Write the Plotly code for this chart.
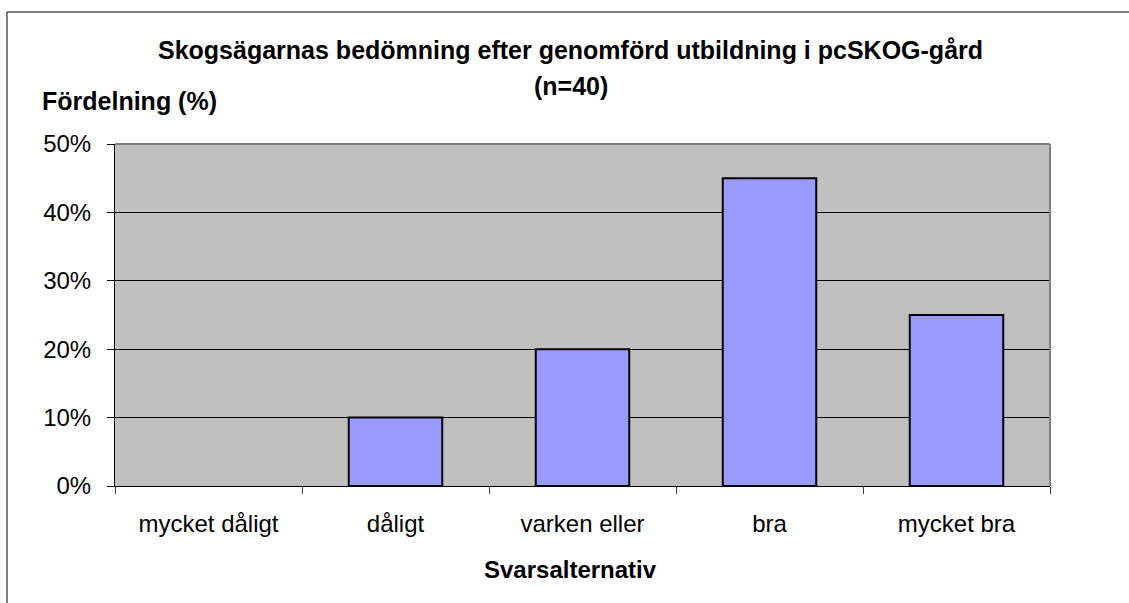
import plotly.graph_objects as go

categories = ["mycket dåligt", "dåligt", "varken eller", "bra", "mycket bra"]
values = [0.0, 0.10, 0.20, 0.45, 0.25]
y_ticks = [0, 0.1, 0.2, 0.3, 0.4, 0.5]

FONT = "Liberation Sans, Arial, sans-serif"

# plot-area geometry in pixels
L, R, T, B = 115, 1050, 144, 486
PW, PH = R - L, B - T


def px_x(x):
    return (x - L) / PW


def px_y(y):
    return (B - y) / PH


fig = go.Figure()
fig.add_trace(go.Bar(
    x=categories, y=values,
    marker=dict(color="#9999FF",
                line=dict(color="#000000", width=[0 if v == 0 else 2 for v in values])),
    width=0.5,
    hoverinfo="skip",
))

fig.update_layout(
    width=1129, height=603,
    margin=dict(l=L, r=1129 - R, t=T, b=603 - B),
    paper_bgcolor="white", plot_bgcolor="#C0C0C0",
    showlegend=False,
    font=dict(family=FONT, size=24, color="black"),
    xaxis=dict(
        type="category", tickson="boundaries", ticks="outside", ticklen=7,
        tickcolor="#404040", showgrid=False, showline=True, linecolor="black",
        linewidth=1, tickfont=dict(size=24), ticklabelstandoff=16,
    ),
    yaxis=dict(
        range=[0, 0.5], tickvals=y_ticks, tickformat=".0%", ticks="outside",
        ticklen=7, tickcolor="black", showgrid=True, gridcolor="black", gridwidth=1,
        showline=True, linecolor="black", linewidth=1, zeroline=False,
        tickfont=dict(size=24), ticklabelstandoff=11,
    ),
    shapes=[
        # gray top and right plot border
        dict(type="line", xref="paper", yref="paper", x0=0, x1=1, y0=1, y1=1,
             line=dict(color="#808080", width=2), layer="above"),
        dict(type="line", xref="paper", yref="paper", x0=1, x1=1, y0=0, y1=1,
             line=dict(color="#808080", width=2), layer="above"),
        # outer chart frame (left and top visible)
        dict(type="line", xref="paper", yref="paper",
             x0=px_x(7), x1=px_x(7), y0=px_y(620), y1=px_y(12),
             line=dict(color="black", width=1)),
        dict(type="line", xref="paper", yref="paper",
             x0=px_x(7), x1=px_x(1140), y0=px_y(12), y1=px_y(12),
             line=dict(color="black", width=1)),
    ],
    annotations=[
        dict(text="<b>Skogsägarnas bedömning efter genomförd utbildning i pcSKOG-gård</b>",
             xref="paper", yref="paper", x=px_x(570), y=px_y(50),
             xanchor="center", yanchor="middle", showarrow=False,
             font=dict(family=FONT, size=25, color="black")),
        dict(text="<b>(n=40)</b>",
             xref="paper", yref="paper", x=px_x(571), y=px_y(86),
             xanchor="center", yanchor="middle", showarrow=False,
             font=dict(family=FONT, size=25, color="black")),
        dict(text="<b>Fördelning (%)</b>", xref="paper", yref="paper",
             x=px_x(40), y=px_y(101), xanchor="left", yanchor="middle",
             showarrow=False, font=dict(family=FONT, size=25, color="black")),
        dict(text="<b>Svarsalternativ</b>", xref="paper", yref="paper",
             x=px_x(570), y=px_y(569), xanchor="center", yanchor="middle",
             showarrow=False, font=dict(family=FONT, size=24, color="black")),
    ],
)

fig.write_html("out.html", config={"displayModeBar": False},
               post_script="document.body.style.margin='0';")
